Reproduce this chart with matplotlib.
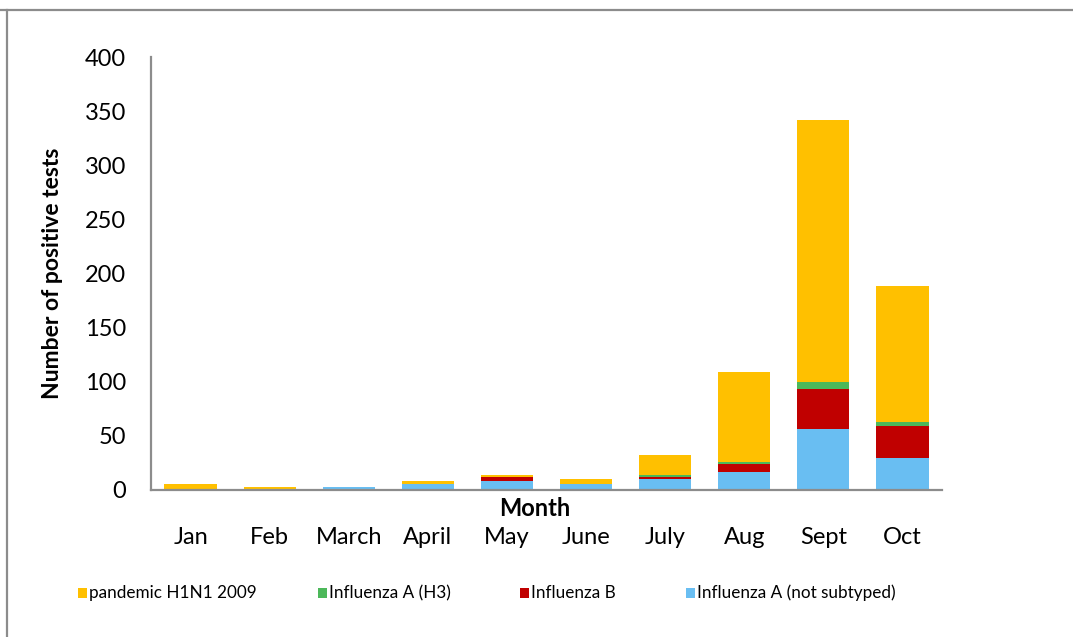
import matplotlib
matplotlib.use("Agg")
import matplotlib.pyplot as plt
from matplotlib.patches import Rectangle
from matplotlib.lines import Line2D
import numpy as np

months = ["Jan", "Feb", "March", "April", "May", "June", "July", "Aug", "Sept", "Oct"]

# Positive tests per month, by type (stacked bottom to top)
flu_a_not_subtyped = [0, 0, 2.5, 6, 8, 6, 10, 17, 56, 30]
influenza_b = [0, 1, 0, 0, 4, 0, 2, 7, 37, 29]
influenza_a_h3 = [0, 0, 0, 0, 0, 0, 1.5, 2, 7, 4]
pandemic_h1n1 = [6, 2, 0, 2, 2, 4, 19, 83, 242, 125]

series = [
    ("Influenza A (not subtyped)", flu_a_not_subtyped, "#69BEF2"),
    ("Influenza B", influenza_b, "#C00000"),
    ("Influenza A (H3)", influenza_a_h3, "#4CB85A"),
    ("pandemic H1N1 2009", pandemic_h1n1, "#FFC000"),
]

yticks = [0, 50, 100, 150, 200, 250, 300, 350, 400]

plt.rcParams["font.family"] = ["Lato", "DejaVu Sans"]

W, H = 1073, 637
fig = plt.figure(figsize=(W / 100, H / 100), dpi=100)
ax = fig.add_axes([151 / W, 1 - 490 / H, (942 - 151) / W, (490 - 57) / H])

x = np.arange(len(months))
bottom = np.zeros(len(months))
for name, vals, color in series:
    vals = np.asarray(vals, dtype=float)
    ax.bar(x, vals, width=0.66, bottom=bottom, color=color, label=name, linewidth=0)
    bottom += vals

ax.set_xlim(-0.5, len(months) - 0.5)
ax.set_ylim(0, 400)
ax.set_yticks(yticks)
ax.set_xticks(x)
ax.set_xticklabels(months)
ax.tick_params(axis="both", length=0, labelsize=17, colors="black")
ax.tick_params(axis="y", pad=18)
ax.tick_params(axis="x", pad=27)

for side in ("top", "right"):
    ax.spines[side].set_visible(False)
for side in ("left", "bottom"):
    ax.spines[side].set_color("#8C8C8C")
    ax.spines[side].set_linewidth(1.6)

ax.set_ylabel("Number of positive tests", fontsize=16.5, fontweight="bold")
ax.yaxis.set_label_coords((63 - 151) / (942 - 151), 0.5)
fig.text(535 / W, 1 - 508 / H, "Month", fontsize=17, fontweight="bold",
         ha="center", va="center")

# Legend row beneath the chart
legend_items = [
    ("pandemic H1N1 2009", "#FFC000", 78),
    ("Influenza A (H3)", "#4CB85A", 318),
    ("Influenza B", "#C00000", 520),
    ("Influenza A (not subtyped)", "#69BEF2", 686),
]
ly = 1 - 593 / H
for label, color, px in legend_items:
    fig.patches.append(Rectangle((px / W, ly - 5 / H), 9 / W, 10 / H,
                                 transform=fig.transFigure, facecolor=color,
                                 edgecolor="none"))
    fig.text((px + 11) / W, ly, label, fontsize=12.3, ha="left", va="center")

# Frame lines along the top and left edges
fig.add_artist(Line2D([0, 1], [1 - 10 / H, 1 - 10 / H], transform=fig.transFigure,
                      color="#8C8C8C", linewidth=1.6))
fig.add_artist(Line2D([6.5 / W, 6.5 / W], [0, 1 - 10 / H], transform=fig.transFigure,
                      color="#8C8C8C", linewidth=1.6))

fig.savefig("out.png", dpi=100, facecolor="white")
